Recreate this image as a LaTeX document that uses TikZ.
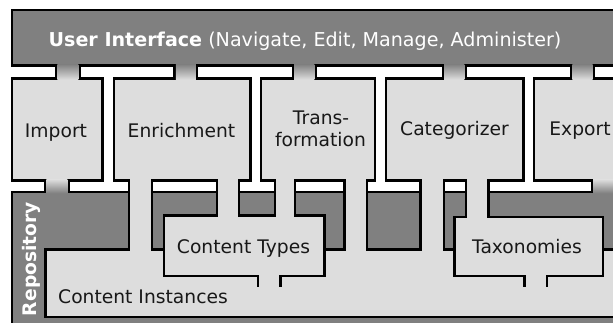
\documentclass[tikz,border=0pt]{standalone}
\usepackage{fontspec}
\setmainfont{DejaVu Sans}
\definecolor{shell}{RGB}{128,128,128}
\definecolor{module}{RGB}{221,221,221}
\definecolor{ink}{RGB}{24,24,24}
\begin{document}
\begin{tikzpicture}[x=1pt,y=-1pt,
  rim/.style={draw=black,line width=5pt,line join=miter},
  seam/.style={draw=black,line width=2.5pt,line join=miter},
  lbl/.style={font=\fontsize{18.7}{22}\selectfont,text=ink,inner sep=0pt,anchor=base},
  hdr/.style={font=\fontsize{19.1}{22}\selectfont,text=white,inner sep=0pt,anchor=base},
]
\path[use as bounding box] (0,0) rectangle (613,323);
\clip (0,0) rectangle (613,323);
\fill[white] (0,0) rectangle (613,323);

% Rectangles are given by the centre lines of their borders (left/top/right/bottom).
% Each is stroked with a doubled pen and then filled, so only the outer half of
% the pen stays visible and touching pieces merge into one outlined region.
\def\shells{12.2/10/650/65.5, 12.2/192/650/340}
\def\boxes{12.2/78.3/102.5/180.7, 114/78.3/250.5/180.7, 261.2/78.3/375.2/180.7, 386.2/78.3/523.5/180.7, 534.2/78.3/650/180.7}
\def\pipes{128.8/170/152.2/260, 217.2/170/238.8/225, 275.2/170/295.2/225, 344.5/170/366.8/260, 420.5/170/444/260, 465.8/170/488.5/227}
\def\stores{45.5/249.5/650/316.8, 163.8/215.5/324.5/276.2, 454.5/217.2/602.8/276.2}
\def\uptabs{56.2/79.5, 174.5/197.2, 292.8/315.5, 442.8/465.5, 571.2/593.8}
\def\downtabs{45.2/68.5, 591.8/650}

% side walls of the shaded links
\foreach \l/\r in \uptabs {\path[rim] ({\l+1.25},54) rectangle ({\r-1.25},90);}
\foreach \l/\r in \downtabs {\path[rim] ({\l+1.25},169) rectangle ({\r-1.25},204);}

% user interface bar and repository
\foreach \a/\b/\c/\d in \shells {\path[rim] ({\a+1.25},{\b+1.25}) rectangle ({\c-1.25},{\d-1.25});}
\foreach \a/\b/\c/\d in \shells {\fill[shell] ({\a+1.25},{\b+1.25}) rectangle ({\c-1.25},{\d-1.25});}

% modules, pipes and stores as one merged light region
\foreach \a/\b/\c/\d in \boxes {\path[rim] ({\a+1.25},{\b+1.25}) rectangle ({\c-1.25},{\d-1.25});}
\foreach \a/\b/\c/\d in \pipes {\path[rim] ({\a+1.25},{\b+1.25}) rectangle ({\c-1.25},{\d-1.25});}
\foreach \a/\b/\c/\d in \stores {\path[rim] ({\a+1.25},{\b+1.25}) rectangle ({\c-1.25},{\d-1.25});}
\foreach \a/\b/\c/\d in \boxes {\fill[module] ({\a+1.25},{\b+1.25}) rectangle ({\c-1.25},{\d-1.25});}
\foreach \a/\b/\c/\d in \pipes {\fill[module] ({\a+1.25},{\b+1.25}) rectangle ({\c-1.25},{\d-1.25});}
\foreach \a/\b/\c/\d in \stores {\fill[module] ({\a+1.25},{\b+1.25}) rectangle ({\c-1.25},{\d-1.25});}

% shaded links between the grey shells and the modules
\foreach \l/\r in \uptabs {\shade[top color=shell,bottom color=module] ({\l+1.25},64.25) rectangle ({\r-1.25},79.55);}
\foreach \l/\r in \downtabs {\shade[top color=module,bottom color=shell] ({\l+1.25},179.45) rectangle ({\r-1.25},193.25);}

% borders of the type and taxonomy stores where they sit on the instances
\draw[seam] (163.8,249.5) -- (163.8,276.2) -- (257.8,276.2) -- (257.8,286.7);
\draw[seam] (280.5,286.7) -- (280.5,276.2) -- (324.5,276.2) -- (324.5,249.5);
\draw[seam] (454.5,249.5) -- (454.5,276.2) -- (524.5,276.2) -- (524.5,286.7);
\draw[seam] (547.2,286.7) -- (547.2,276.2) -- (602.8,276.2) -- (602.8,249.5);

% labels
\node[hdr] (ui) at (305,47) {\textbf{User Interface} (Navigate, Edit, Manage, Administer)};
\node[lbl] (import) at (56,138) {Import};
\node[lbl] (enrich) at (181.5,138) {Enrichment};
\node[lbl] (transA) at (321,125) {Trans-};
\node[lbl] (transB) at (320.5,147) {formation};
\node[lbl] (categ) at (454.5,136) {Categorizer};
\node[lbl] (export) at (580,136) {Export};
\node[lbl] (ctypes) at (243.5,254) {Content Types};
\node[lbl] (taxo) at (527,254) {Taxonomies};
\node[lbl,anchor=base west] (cinst) at (58,303) {Content Instances};
\node[hdr,font=\fontsize{18.7}{22}\selectfont\bfseries,rotate=90] (repo) at (36.5,259) {Repository};
\end{tikzpicture}
\end{document}
